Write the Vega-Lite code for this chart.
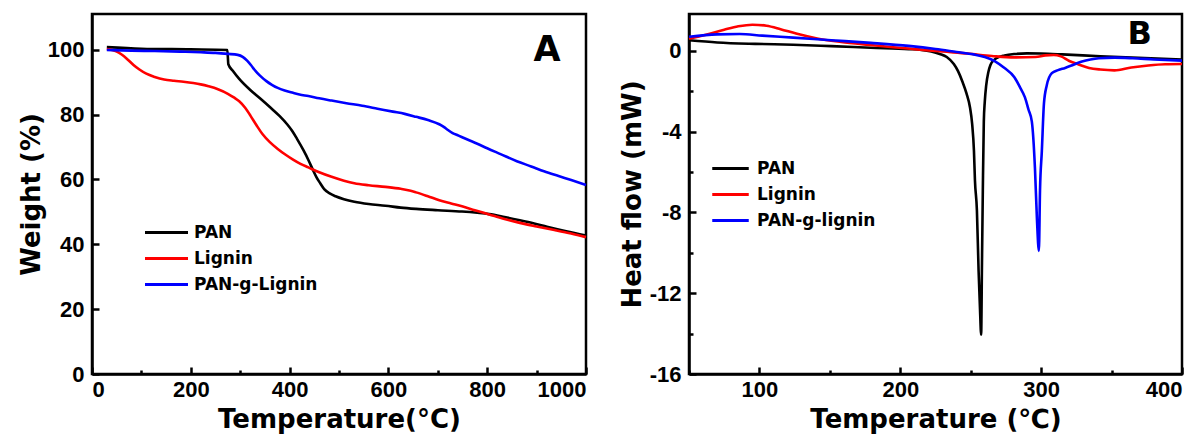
{
  "$schema": "https://vega.github.io/schema/vega-lite/v6.json",
  "background": "white",
  "padding": {"left": 16, "top": 12, "right": 0, "bottom": 0},
  "bounds": "flush",
  "spacing": 103,
  "config": {
    "view": {"stroke": "black", "strokeWidth": 2.5},
    "axis": {
      "grid": false,
      "domainColor": "black", "domainWidth": 2.5,
      "tickColor": "black", "tickWidth": 2.5, "tickSize": -6,
      "labelFont": "Liberation Sans", "labelFontWeight": "bold", "labelFontSize": 22, "labelColor": "black", "labelPadding": 15,
      "titleFont": "DejaVu Sans", "titleFontWeight": "bold", "titleFontSize": 26, "titleColor": "black"
    },
    "axisX": {"labelPadding": 12},
    "legend": {
      "orient": "none", "title": null, "padding": 0,
      "symbolSize": 100, "symbolStrokeWidth": 3,
      "labelFont": "DejaVu Sans", "labelFontWeight": "bold", "labelFontSize": 17, "labelColor": "black",
      "rowPadding": 8
    }
  },
  "resolve": {"scale": {"color": "independent"}, "legend": {"color": "independent"}},
  "datasets": {
    "tga": [
      {"sample": "PAN", "temp": 30, "weight": 100.8},
      {"sample": "PAN", "temp": 100, "weight": 100.3},
      {"sample": "PAN", "temp": 200, "weight": 100.1},
      {"sample": "PAN", "temp": 274, "weight": 99.9},
      {"sample": "PAN", "temp": 276, "weight": 95.5},
      {"sample": "PAN", "temp": 285, "weight": 93.5},
      {"sample": "PAN", "temp": 298, "weight": 91},
      {"sample": "PAN", "temp": 321, "weight": 87.5},
      {"sample": "PAN", "temp": 340, "weight": 85},
      {"sample": "PAN", "temp": 360, "weight": 82.3},
      {"sample": "PAN", "temp": 380, "weight": 79.5},
      {"sample": "PAN", "temp": 395, "weight": 77},
      {"sample": "PAN", "temp": 405, "weight": 75},
      {"sample": "PAN", "temp": 415, "weight": 72.5},
      {"sample": "PAN", "temp": 428, "weight": 69},
      {"sample": "PAN", "temp": 438, "weight": 66},
      {"sample": "PAN", "temp": 447, "weight": 63},
      {"sample": "PAN", "temp": 454, "weight": 60.8},
      {"sample": "PAN", "temp": 462, "weight": 58.8},
      {"sample": "PAN", "temp": 470, "weight": 57},
      {"sample": "PAN", "temp": 482, "weight": 55.6},
      {"sample": "PAN", "temp": 493, "weight": 54.8},
      {"sample": "PAN", "temp": 510, "weight": 53.9},
      {"sample": "PAN", "temp": 531, "weight": 53.1},
      {"sample": "PAN", "temp": 560, "weight": 52.4},
      {"sample": "PAN", "temp": 594, "weight": 51.9},
      {"sample": "PAN", "temp": 625, "weight": 51.3},
      {"sample": "PAN", "temp": 656, "weight": 50.9},
      {"sample": "PAN", "temp": 700, "weight": 50.5},
      {"sample": "PAN", "temp": 749, "weight": 50.1},
      {"sample": "PAN", "temp": 780, "weight": 49.7},
      {"sample": "PAN", "temp": 804, "weight": 49.3},
      {"sample": "PAN", "temp": 835, "weight": 48.4},
      {"sample": "PAN", "temp": 866, "weight": 47.4},
      {"sample": "PAN", "temp": 895, "weight": 46.4},
      {"sample": "PAN", "temp": 921, "weight": 45.4},
      {"sample": "PAN", "temp": 960, "weight": 44},
      {"sample": "PAN", "temp": 1000, "weight": 42.7},
      {"sample": "Lignin", "temp": 30, "weight": 100.2},
      {"sample": "Lignin", "temp": 49, "weight": 99.5},
      {"sample": "Lignin", "temp": 60, "weight": 98.5},
      {"sample": "Lignin", "temp": 72, "weight": 97},
      {"sample": "Lignin", "temp": 84, "weight": 95.3},
      {"sample": "Lignin", "temp": 96, "weight": 93.9},
      {"sample": "Lignin", "temp": 110, "weight": 92.6},
      {"sample": "Lignin", "temp": 127, "weight": 91.6},
      {"sample": "Lignin", "temp": 146, "weight": 90.8},
      {"sample": "Lignin", "temp": 166, "weight": 90.4},
      {"sample": "Lignin", "temp": 185, "weight": 90.1},
      {"sample": "Lignin", "temp": 205, "weight": 89.7},
      {"sample": "Lignin", "temp": 220, "weight": 89.3},
      {"sample": "Lignin", "temp": 236, "weight": 88.7},
      {"sample": "Lignin", "temp": 255, "weight": 87.8},
      {"sample": "Lignin", "temp": 275, "weight": 86.4},
      {"sample": "Lignin", "temp": 288, "weight": 85.2},
      {"sample": "Lignin", "temp": 298, "weight": 84.1},
      {"sample": "Lignin", "temp": 310, "weight": 82.1},
      {"sample": "Lignin", "temp": 321, "weight": 79.6},
      {"sample": "Lignin", "temp": 333, "weight": 76.7},
      {"sample": "Lignin", "temp": 345, "weight": 74},
      {"sample": "Lignin", "temp": 360, "weight": 71.5},
      {"sample": "Lignin", "temp": 376, "weight": 69.4},
      {"sample": "Lignin", "temp": 392, "weight": 67.6},
      {"sample": "Lignin", "temp": 407, "weight": 66.1},
      {"sample": "Lignin", "temp": 422, "weight": 64.8},
      {"sample": "Lignin", "temp": 438, "weight": 63.7},
      {"sample": "Lignin", "temp": 460, "weight": 62.2},
      {"sample": "Lignin", "temp": 485, "weight": 60.8},
      {"sample": "Lignin", "temp": 510, "weight": 59.6},
      {"sample": "Lignin", "temp": 531, "weight": 58.8},
      {"sample": "Lignin", "temp": 560, "weight": 58.2},
      {"sample": "Lignin", "temp": 594, "weight": 57.7},
      {"sample": "Lignin", "temp": 625, "weight": 57.1},
      {"sample": "Lignin", "temp": 645, "weight": 56.5},
      {"sample": "Lignin", "temp": 656, "weight": 56},
      {"sample": "Lignin", "temp": 680, "weight": 54.8},
      {"sample": "Lignin", "temp": 703, "weight": 53.6},
      {"sample": "Lignin", "temp": 727, "weight": 52.6},
      {"sample": "Lignin", "temp": 749, "weight": 51.7},
      {"sample": "Lignin", "temp": 775, "weight": 50.5},
      {"sample": "Lignin", "temp": 804, "weight": 49.2},
      {"sample": "Lignin", "temp": 835, "weight": 47.8},
      {"sample": "Lignin", "temp": 866, "weight": 46.6},
      {"sample": "Lignin", "temp": 900, "weight": 45.5},
      {"sample": "Lignin", "temp": 936, "weight": 44.4},
      {"sample": "Lignin", "temp": 970, "weight": 43.3},
      {"sample": "Lignin", "temp": 1000, "weight": 42.2},
      {"sample": "PAN-g-Lignin", "temp": 30, "weight": 99.9},
      {"sample": "PAN-g-Lignin", "temp": 80, "weight": 99.7},
      {"sample": "PAN-g-Lignin", "temp": 127, "weight": 99.6},
      {"sample": "PAN-g-Lignin", "temp": 180, "weight": 99.4},
      {"sample": "PAN-g-Lignin", "temp": 220, "weight": 99.2},
      {"sample": "PAN-g-Lignin", "temp": 250, "weight": 99},
      {"sample": "PAN-g-Lignin", "temp": 275, "weight": 98.7},
      {"sample": "PAN-g-Lignin", "temp": 295, "weight": 98.4},
      {"sample": "PAN-g-Lignin", "temp": 305, "weight": 97.8},
      {"sample": "PAN-g-Lignin", "temp": 314, "weight": 96.6},
      {"sample": "PAN-g-Lignin", "temp": 322, "weight": 95.2},
      {"sample": "PAN-g-Lignin", "temp": 329, "weight": 93.8},
      {"sample": "PAN-g-Lignin", "temp": 340, "weight": 92},
      {"sample": "PAN-g-Lignin", "temp": 353, "weight": 90.3},
      {"sample": "PAN-g-Lignin", "temp": 365, "weight": 89.1},
      {"sample": "PAN-g-Lignin", "temp": 376, "weight": 88.2},
      {"sample": "PAN-g-Lignin", "temp": 390, "weight": 87.4},
      {"sample": "PAN-g-Lignin", "temp": 407, "weight": 86.7},
      {"sample": "PAN-g-Lignin", "temp": 420, "weight": 86.2},
      {"sample": "PAN-g-Lignin", "temp": 438, "weight": 85.7},
      {"sample": "PAN-g-Lignin", "temp": 460, "weight": 85},
      {"sample": "PAN-g-Lignin", "temp": 485, "weight": 84.3},
      {"sample": "PAN-g-Lignin", "temp": 515, "weight": 83.5},
      {"sample": "PAN-g-Lignin", "temp": 547, "weight": 82.7},
      {"sample": "PAN-g-Lignin", "temp": 578, "weight": 81.8},
      {"sample": "PAN-g-Lignin", "temp": 609, "weight": 80.9},
      {"sample": "PAN-g-Lignin", "temp": 633, "weight": 80.2},
      {"sample": "PAN-g-Lignin", "temp": 656, "weight": 79.3},
      {"sample": "PAN-g-Lignin", "temp": 680, "weight": 78.3},
      {"sample": "PAN-g-Lignin", "temp": 703, "weight": 77},
      {"sample": "PAN-g-Lignin", "temp": 712, "weight": 76.2},
      {"sample": "PAN-g-Lignin", "temp": 719, "weight": 75.4},
      {"sample": "PAN-g-Lignin", "temp": 730, "weight": 74.3},
      {"sample": "PAN-g-Lignin", "temp": 742, "weight": 73.5},
      {"sample": "PAN-g-Lignin", "temp": 760, "weight": 72.3},
      {"sample": "PAN-g-Lignin", "temp": 780, "weight": 71},
      {"sample": "PAN-g-Lignin", "temp": 800, "weight": 69.6},
      {"sample": "PAN-g-Lignin", "temp": 827, "weight": 67.8},
      {"sample": "PAN-g-Lignin", "temp": 860, "weight": 65.6},
      {"sample": "PAN-g-Lignin", "temp": 889, "weight": 64},
      {"sample": "PAN-g-Lignin", "temp": 915, "weight": 62.5},
      {"sample": "PAN-g-Lignin", "temp": 943, "weight": 61.1},
      {"sample": "PAN-g-Lignin", "temp": 970, "weight": 59.8},
      {"sample": "PAN-g-Lignin", "temp": 1000, "weight": 58.3}
    ],
    "dsc": [
      {"sample": "PAN", "temp": 50, "heat": 0.53},
      {"sample": "PAN", "temp": 70, "heat": 0.42},
      {"sample": "PAN", "temp": 97, "heat": 0.35},
      {"sample": "PAN", "temp": 124, "heat": 0.31},
      {"sample": "PAN", "temp": 151, "heat": 0.24},
      {"sample": "PAN", "temp": 179, "heat": 0.16},
      {"sample": "PAN", "temp": 206, "heat": 0.09},
      {"sample": "PAN", "temp": 215, "heat": 0.05},
      {"sample": "PAN", "temp": 222, "heat": -0.03},
      {"sample": "PAN", "temp": 228, "heat": -0.15},
      {"sample": "PAN", "temp": 233, "heat": -0.3},
      {"sample": "PAN", "temp": 238, "heat": -0.65},
      {"sample": "PAN", "temp": 241, "heat": -1},
      {"sample": "PAN", "temp": 244, "heat": -1.5},
      {"sample": "PAN", "temp": 247, "heat": -2.1},
      {"sample": "PAN", "temp": 249.5, "heat": -2.8},
      {"sample": "PAN", "temp": 251, "heat": -3.6},
      {"sample": "PAN", "temp": 252.3, "heat": -4.95},
      {"sample": "PAN", "temp": 253, "heat": -6.4},
      {"sample": "PAN", "temp": 254.4, "heat": -7.9},
      {"sample": "PAN", "temp": 255.6, "heat": -10.9},
      {"sample": "PAN", "temp": 256.6, "heat": -12.8},
      {"sample": "PAN", "temp": 257.4, "heat": -14.05},
      {"sample": "PAN", "temp": 258, "heat": -10.5},
      {"sample": "PAN", "temp": 258.6, "heat": -6.9},
      {"sample": "PAN", "temp": 259.3, "heat": -3.5},
      {"sample": "PAN", "temp": 260, "heat": -2.5},
      {"sample": "PAN", "temp": 261, "heat": -1.7},
      {"sample": "PAN", "temp": 262.5, "heat": -1.05},
      {"sample": "PAN", "temp": 264, "heat": -0.7},
      {"sample": "PAN", "temp": 266.5, "heat": -0.45},
      {"sample": "PAN", "temp": 269, "heat": -0.33},
      {"sample": "PAN", "temp": 274, "heat": -0.22},
      {"sample": "PAN", "temp": 281, "heat": -0.15},
      {"sample": "PAN", "temp": 290, "heat": -0.12},
      {"sample": "PAN", "temp": 300, "heat": -0.13},
      {"sample": "PAN", "temp": 315, "heat": -0.17},
      {"sample": "PAN", "temp": 342, "heat": -0.26},
      {"sample": "PAN", "temp": 369, "heat": -0.34},
      {"sample": "PAN", "temp": 400, "heat": -0.42},
      {"sample": "Lignin", "temp": 50, "heat": 0.6},
      {"sample": "Lignin", "temp": 62, "heat": 0.8},
      {"sample": "Lignin", "temp": 75, "heat": 1.05},
      {"sample": "Lignin", "temp": 85, "heat": 1.22},
      {"sample": "Lignin", "temp": 95, "heat": 1.3},
      {"sample": "Lignin", "temp": 105, "heat": 1.25},
      {"sample": "Lignin", "temp": 115, "heat": 1.08},
      {"sample": "Lignin", "temp": 126, "heat": 0.86},
      {"sample": "Lignin", "temp": 141, "heat": 0.62},
      {"sample": "Lignin", "temp": 158, "heat": 0.45},
      {"sample": "Lignin", "temp": 178, "heat": 0.3},
      {"sample": "Lignin", "temp": 195, "heat": 0.18},
      {"sample": "Lignin", "temp": 212, "heat": 0.08},
      {"sample": "Lignin", "temp": 230, "heat": -0.03},
      {"sample": "Lignin", "temp": 248, "heat": -0.13},
      {"sample": "Lignin", "temp": 265, "heat": -0.25},
      {"sample": "Lignin", "temp": 281, "heat": -0.32},
      {"sample": "Lignin", "temp": 296, "heat": -0.3},
      {"sample": "Lignin", "temp": 303, "heat": -0.22},
      {"sample": "Lignin", "temp": 309, "heat": -0.2},
      {"sample": "Lignin", "temp": 314, "heat": -0.27},
      {"sample": "Lignin", "temp": 320, "heat": -0.5},
      {"sample": "Lignin", "temp": 327, "heat": -0.68},
      {"sample": "Lignin", "temp": 334, "heat": -0.84},
      {"sample": "Lignin", "temp": 342, "heat": -0.92},
      {"sample": "Lignin", "temp": 352, "heat": -0.96},
      {"sample": "Lignin", "temp": 364, "heat": -0.82},
      {"sample": "Lignin", "temp": 376, "heat": -0.72},
      {"sample": "Lignin", "temp": 388, "heat": -0.66},
      {"sample": "Lignin", "temp": 400, "heat": -0.65},
      {"sample": "PAN-g-lignin", "temp": 50, "heat": 0.7},
      {"sample": "PAN-g-lignin", "temp": 70, "heat": 0.82},
      {"sample": "PAN-g-lignin", "temp": 86, "heat": 0.84},
      {"sample": "PAN-g-lignin", "temp": 102, "heat": 0.76},
      {"sample": "PAN-g-lignin", "temp": 124, "heat": 0.66},
      {"sample": "PAN-g-lignin", "temp": 151, "heat": 0.53},
      {"sample": "PAN-g-lignin", "temp": 179, "heat": 0.4},
      {"sample": "PAN-g-lignin", "temp": 206, "heat": 0.25},
      {"sample": "PAN-g-lignin", "temp": 225, "heat": 0.1},
      {"sample": "PAN-g-lignin", "temp": 240, "heat": -0.05},
      {"sample": "PAN-g-lignin", "temp": 252, "heat": -0.17},
      {"sample": "PAN-g-lignin", "temp": 260, "heat": -0.3},
      {"sample": "PAN-g-lignin", "temp": 267, "heat": -0.5},
      {"sample": "PAN-g-lignin", "temp": 274, "heat": -0.85},
      {"sample": "PAN-g-lignin", "temp": 281, "heat": -1.3},
      {"sample": "PAN-g-lignin", "temp": 285, "heat": -1.8},
      {"sample": "PAN-g-lignin", "temp": 288.5, "heat": -2.3},
      {"sample": "PAN-g-lignin", "temp": 291, "heat": -2.9},
      {"sample": "PAN-g-lignin", "temp": 293.4, "heat": -3.5},
      {"sample": "PAN-g-lignin", "temp": 295.6, "heat": -5.8},
      {"sample": "PAN-g-lignin", "temp": 297, "heat": -8.3},
      {"sample": "PAN-g-lignin", "temp": 298.4, "heat": -9.9},
      {"sample": "PAN-g-lignin", "temp": 299.2, "heat": -6.9},
      {"sample": "PAN-g-lignin", "temp": 300.5, "heat": -4.95},
      {"sample": "PAN-g-lignin", "temp": 302, "heat": -2.6},
      {"sample": "PAN-g-lignin", "temp": 304, "heat": -1.7},
      {"sample": "PAN-g-lignin", "temp": 307.6, "heat": -1.1},
      {"sample": "PAN-g-lignin", "temp": 312, "heat": -0.95},
      {"sample": "PAN-g-lignin", "temp": 317, "heat": -0.84},
      {"sample": "PAN-g-lignin", "temp": 323, "heat": -0.68},
      {"sample": "PAN-g-lignin", "temp": 329, "heat": -0.52},
      {"sample": "PAN-g-lignin", "temp": 335, "heat": -0.42},
      {"sample": "PAN-g-lignin", "temp": 341, "heat": -0.36},
      {"sample": "PAN-g-lignin", "temp": 352, "heat": -0.33},
      {"sample": "PAN-g-lignin", "temp": 365, "heat": -0.36},
      {"sample": "PAN-g-lignin", "temp": 380, "heat": -0.42},
      {"sample": "PAN-g-lignin", "temp": 400, "heat": -0.48}
    ]
  },
  "hconcat": [
    {
      "width": 494,
      "height": 360,
      "layer": [
        {
          "data": {"name": "tga"},
          "mark": {"type": "line", "strokeWidth": 2.6, "interpolate": "monotone"},
          "encoding": {
            "x": {
              "field": "temp", "type": "quantitative",
              "scale": {"domain": [0, 1000], "nice": false},
              "axis": {
                "title": "Temperature(°C)",
                "values": [0, 100, 200, 300, 400, 500, 600, 700, 800, 900, 1000],
                "labelExpr": "datum.value % 200 === 0 ? '' + datum.value : ''",
                "tickSize": {"condition": {"test": "datum.value % 200 === 0", "value": -7}, "value": -4},
                "titleY": 45, "titleBaseline": "middle"
              }
            },
            "y": {
              "field": "weight", "type": "quantitative",
              "scale": {"domain": [0, 111], "nice": false, "zero": false},
              "axis": {
                "title": "Weight (%)",
                "values": [0, 10, 20, 30, 40, 50, 60, 70, 80, 90, 100, 110],
                "labelExpr": "datum.value % 20 === 0 ? '' + datum.value : ''",
                "tickSize": {"condition": {"test": "datum.value % 20 === 0", "value": -7}, "value": -4},
                "titleX": -61, "titleBaseline": "middle"
              }
            },
            "color": {
              "field": "sample", "type": "nominal",
              "scale": {"domain": ["PAN", "Lignin", "PAN-g-Lignin"], "range": ["#000000", "#ff0000", "#0000ff"]},
              "legend": {"legendX": 66, "legendY": 210, "symbolType": "M-4.3,0H4.3", "labelOffset": 19}
            }
          }
        },
        {
          "data": {"values": [{}]},
          "mark": {"type": "text", "text": "A", "font": "DejaVu Sans", "fontWeight": "bold", "fontSize": 35, "color": "black", "align": "center", "baseline": "middle"},
          "encoding": {
            "x": {"datum": 921},
            "y": {"datum": 100}
          }
        }
      ]
    },
    {
      "width": 493,
      "height": 360,
      "layer": [
        {
          "data": {"name": "dsc"},
          "mark": {"type": "line", "strokeWidth": 2.6, "interpolate": "monotone"},
          "encoding": {
            "x": {
              "field": "temp", "type": "quantitative",
              "scale": {"domain": [50, 400], "nice": false, "zero": false},
              "axis": {
                "title": "Temperature (℃)",
                "values": [50, 100, 150, 200, 250, 300, 350, 400],
                "labelExpr": "datum.value % 100 === 0 ? '' + datum.value : ''",
                "tickSize": {"condition": {"test": "datum.value % 100 === 0", "value": -7}, "value": -4},
                "titleY": 45, "titleBaseline": "middle"
              }
            },
            "y": {
              "field": "heat", "type": "quantitative",
              "scale": {"domain": [-16, 1.83], "nice": false, "zero": false},
              "axis": {
                "title": "Heat flow (mW)",
                "values": [-16, -14, -12, -10, -8, -6, -4, -2, 0],
                "labelExpr": "datum.value % 4 === 0 ? '' + datum.value : ''",
                "tickSize": {"condition": {"test": "datum.value % 4 === 0", "value": -7}, "value": -4},
                "titleX": -57, "titleBaseline": "middle"
              }
            },
            "color": {
              "field": "sample", "type": "nominal",
              "scale": {"domain": ["PAN", "Lignin", "PAN-g-lignin"], "range": ["#000000", "#ff0000", "#0000ff"]},
              "legend": {"legendX": 33, "legendY": 146, "symbolType": "M-3.65,0H3.65", "labelOffset": 18}
            }
          }
        },
        {
          "data": {"values": [{}]},
          "mark": {"type": "text", "text": "B", "font": "DejaVu Sans", "fontWeight": "bold", "fontSize": 32, "color": "black", "align": "center", "baseline": "middle"},
          "encoding": {
            "x": {"datum": 370},
            "y": {"datum": 0.84}
          }
        }
      ]
    }
  ]
}
